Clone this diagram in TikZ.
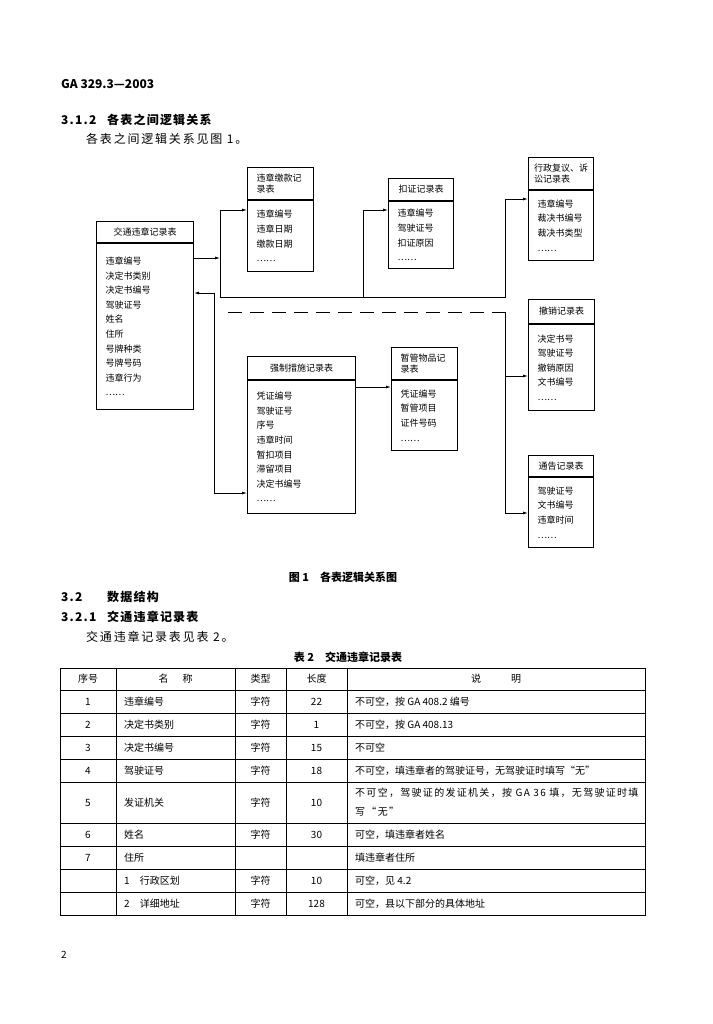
\documentclass[tikz,border=0pt]{standalone}
\usepackage{fontspec}
\setmainfont{Noto Sans CJK SC}
\usetikzlibrary{arrows.meta}

\begin{document}
\begin{tikzpicture}[x=1pt,y=-1pt,
  hdr/.style={draw,line width=1pt,anchor=north west,inner xsep=9pt,inner ysep=0pt,font=\fontsize{9}{11.5}\selectfont},
  fld/.style={draw,line width=1pt,anchor=north west,inner xsep=9pt,inner ysep=0pt,align=left,font=\fontsize{9}{14.6}\selectfont},
  lnk/.style={line width=0.8pt},
  arr/.style={lnk,-{Latex[length=5pt,width=3pt]}},
  txt/.style={anchor=west,inner sep=0pt,font=\fontsize{12}{14}\selectfont\addfontfeature{LetterSpace=15}},
  ttl/.style={txt,font=\bfseries\fontsize{12}{14}\selectfont\addfontfeature{LetterSpace=10}},
  cell/.style={inner sep=0pt,font=\fontsize{10}{19}\selectfont},
  lcell/.style={cell,anchor=west,align=left}]
\useasboundingbox (0,0) rectangle (712,1024);

% page head
\node[ttl,font=\bfseries\fontsize{12}{14}\selectfont] (head) at (61,84) {GA 329.3—2003};
\node[ttl] (s312) at (61,120) {3.1.2};
\node[ttl] (s312t) at (107,120) {各表之间逻辑关系};
\node[txt] (p1) at (86,139) {各表之间逻辑关系见图 1。};

% record tables
\node[hdr,minimum width=97,minimum height=21] (jt) at (96,221) {交通违章记录表};
\node[fld,text width=79,minimum height=166] (jtb) at (jt.south west) {违章编号\\决定书类别\\决定书编号\\驾驶证号\\姓名\\住所\\号牌种类\\号牌号码\\违章行为\\……};

\node[hdr,text width=48,align=left,minimum height=32] (jk) at (247,167) {违章缴款记\\录表};
\node[fld,text width=48,minimum height=71] (jkb) at (jk.south west) {违章编号\\违章日期\\缴款日期\\……};

\node[hdr,minimum width=65,minimum height=22] (kz) at (388,178) {扣证记录表};
\node[fld,text width=47,minimum height=67] (kzb) at (kz.south west) {违章编号\\驾驶证号\\扣证原因\\……};

\node[hdr,inner xsep=5.5pt,text width=54,align=left,minimum height=32] (fy) at (528,157) {行政复议、诉\\讼记录表};
\node[fld,text width=47,minimum height=70] (fyb) at (fy.south west) {违章编号\\裁决书编号\\裁决书类型\\……};

\node[hdr,minimum width=66,minimum height=24] (cx) at (528,299) {撤销记录表};
\node[fld,text width=48,minimum height=86] (cxb) at (cx.south west) {决定书号\\驾驶证号\\撤销原因\\文书编号\\……};

\node[hdr,minimum width=108,minimum height=23] (qz) at (247,356) {强制措施记录表};
\node[fld,text width=90,minimum height=133] (qzb) at (qz.south west) {凭证编号\\驾驶证号\\序号\\违章时间\\暂扣项目\\滞留项目\\决定书编号\\……};

\node[hdr,text width=48,align=left,minimum height=32] (zg) at (391,347) {暂管物品记\\录表};
\node[fld,text width=48,minimum height=70] (zgb) at (zg.south west) {凭证编号\\暂管项目\\证件号码\\……};

\node[hdr,minimum width=65,minimum height=21] (tg) at (528,455) {通告记录表};
\node[fld,text width=47,minimum height=70] (tgb) at (tg.south west) {驾驶证号\\文书编号\\违章时间\\……};

% links
\coordinate (ja) at (220,258);
\coordinate (ja1) at (220,210);
\coordinate (ja2) at (220,297);
\coordinate (jb1) at (363,210);
\coordinate (jb2) at (363,297);
\coordinate (jc1) at (505,199);
\coordinate (jc2) at (505,297);
\coordinate (jd) at (214,293);
\coordinate (jd1) at (214,493);
\coordinate (je) at (372,387);
\coordinate (jf0) at (228,312);
\coordinate (jf) at (505,312);
\coordinate (jf1) at (505,376);
\coordinate (jf2) at (505,513);
\draw[arr] (jtb.east |- ja) -- (ja);
\draw[lnk] (ja1) -- (ja2) -- (jc2) -- (jc1);
\draw[lnk] (jb1) -- (jb2);
\draw[arr] (ja1) -- (jkb.west |- ja1);
\draw[arr] (jb1) -- (kzb.west |- jb1);
\draw[arr] (jc1) -- (fyb.west |- jc1);
\draw[arr] (jd) -- (jtb.east |- jd);
\draw[lnk] (jd) -- (jd1);
\draw[arr] (jd1) -- (qzb.west |- jd1);
\draw[arr] (qzb.east |- je) -- (zgb.west |- je);
\draw[lnk,dash pattern=on 14pt off 8pt] (jf0) -- (jf);
\draw[lnk] (jf) -- (jf2);
\draw[arr] (jf1) -- (cxb.west |- jf1);
\draw[arr] (jf2) -- (tgb.west |- jf2);

% captions and headings
\node[ttl,anchor=center,font=\bfseries\fontsize{11}{14}\selectfont] (cap1) at (343,577) {图 1\quad 各表逻辑关系图};
\node[ttl] (s32) at (61,597) {3.2};
\node[ttl] (s32t) at (107,597) {数据结构};
\node[ttl] (s321) at (61,617) {3.2.1};
\node[ttl] (s321t) at (107,617) {交通违章记录表};
\node[txt] (p2) at (86,637) {交通违章记录表见表 2。};
\node[ttl,anchor=center,font=\bfseries\fontsize{11}{14}\selectfont] (cap2) at (348,657) {表 2\quad 交通违章记录表};

% table 2
\draw[line width=1pt] (60,668) rectangle (645,915);
\draw[line width=0.7pt] (116,668) -- (116,915) (235,668) -- (235,915) (286,668) -- (286,915) (347,668) -- (347,915);
\draw[line width=0.7pt] (60,690) -- (645,690) (60,713) -- (645,713) (60,736) -- (645,736) (60,759) -- (645,759) (60,782) -- (645,782);
\draw[line width=0.7pt] (60,823) -- (645,823) (60,846) -- (645,846) (60,869) -- (645,869) (60,892) -- (645,892);
\node[cell] (h1) at (88,679) {序号};
\node[cell] (h2) at (175.5,679) {名\hspace{14pt}称};
\node[cell] (h3) at (260.5,679) {类型};
\node[cell] (h4) at (316.5,679) {长度};
\node[cell] (h5) at (496,679) {说\hspace{30pt}明};
\node[cell] (n1) at (88,701.5) {1};
\node[lcell] (m1) at (124,701.5) {违章编号};
\node[cell] (k1) at (260.5,701.5) {字符};
\node[cell] (l1) at (316.5,701.5) {22};
\node[lcell] (d1) at (355,701.5) {不可空，按 GA 408.2 编号};
\node[cell] (n2) at (88,724.5) {2};
\node[lcell] (m2) at (124,724.5) {决定书类别};
\node[cell] (k2) at (260.5,724.5) {字符};
\node[cell] (l2) at (316.5,724.5) {1};
\node[lcell] (d2) at (355,724.5) {不可空，按 GA 408.13};
\node[cell] (n3) at (88,747.5) {3};
\node[lcell] (m3) at (124,747.5) {决定书编号};
\node[cell] (k3) at (260.5,747.5) {字符};
\node[cell] (l3) at (316.5,747.5) {15};
\node[lcell] (d3) at (355,747.5) {不可空};
\node[cell] (n4) at (88,770.5) {4};
\node[lcell] (m4) at (124,770.5) {驾驶证号};
\node[cell] (k4) at (260.5,770.5) {字符};
\node[cell] (l4) at (316.5,770.5) {18};
\node[lcell] (d4) at (355,770.5) {不可空，填违章者的驾驶证号，无驾驶证时填写“无”};
\node[cell] (n5) at (88,802.5) {5};
\node[lcell] (m5) at (124,802.5) {发证机关};
\node[cell] (k5) at (260.5,802.5) {字符};
\node[cell] (l5) at (316.5,802.5) {10};
\node[lcell,font=\fontsize{10}{19}\selectfont\addfontfeature{LetterSpace=13}] (d5) at (355,802.5) {不可空，驾驶证的发证机关，按 GA 36 填，无驾驶证时填\\写“无”};
\node[cell] (n6) at (88,834.5) {6};
\node[lcell] (m6) at (124,834.5) {姓名};
\node[cell] (k6) at (260.5,834.5) {字符};
\node[cell] (l6) at (316.5,834.5) {30};
\node[lcell] (d6) at (355,834.5) {可空，填违章者姓名};
\node[cell] (n7) at (88,857.5) {7};
\node[lcell] (m7) at (124,857.5) {住所};
\node[lcell] (d7) at (355,857.5) {填违章者住所};
\node[lcell] (m8) at (124,880.5) {1\hspace{10pt}行政区划};
\node[cell] (k8) at (260.5,880.5) {字符};
\node[cell] (l8) at (316.5,880.5) {10};
\node[lcell] (d8) at (355,880.5) {可空，见 4.2};
\node[lcell] (m9) at (124,903.5) {2\hspace{10pt}详细地址};
\node[cell] (k9) at (260.5,903.5) {字符};
\node[cell] (l9) at (316.5,903.5) {128};
\node[lcell] (d9) at (355,903.5) {可空，县以下部分的具体地址};

\node[txt,font=\fontsize{10}{12}\selectfont] (page) at (61,955) {2};
\end{tikzpicture}
\end{document}
